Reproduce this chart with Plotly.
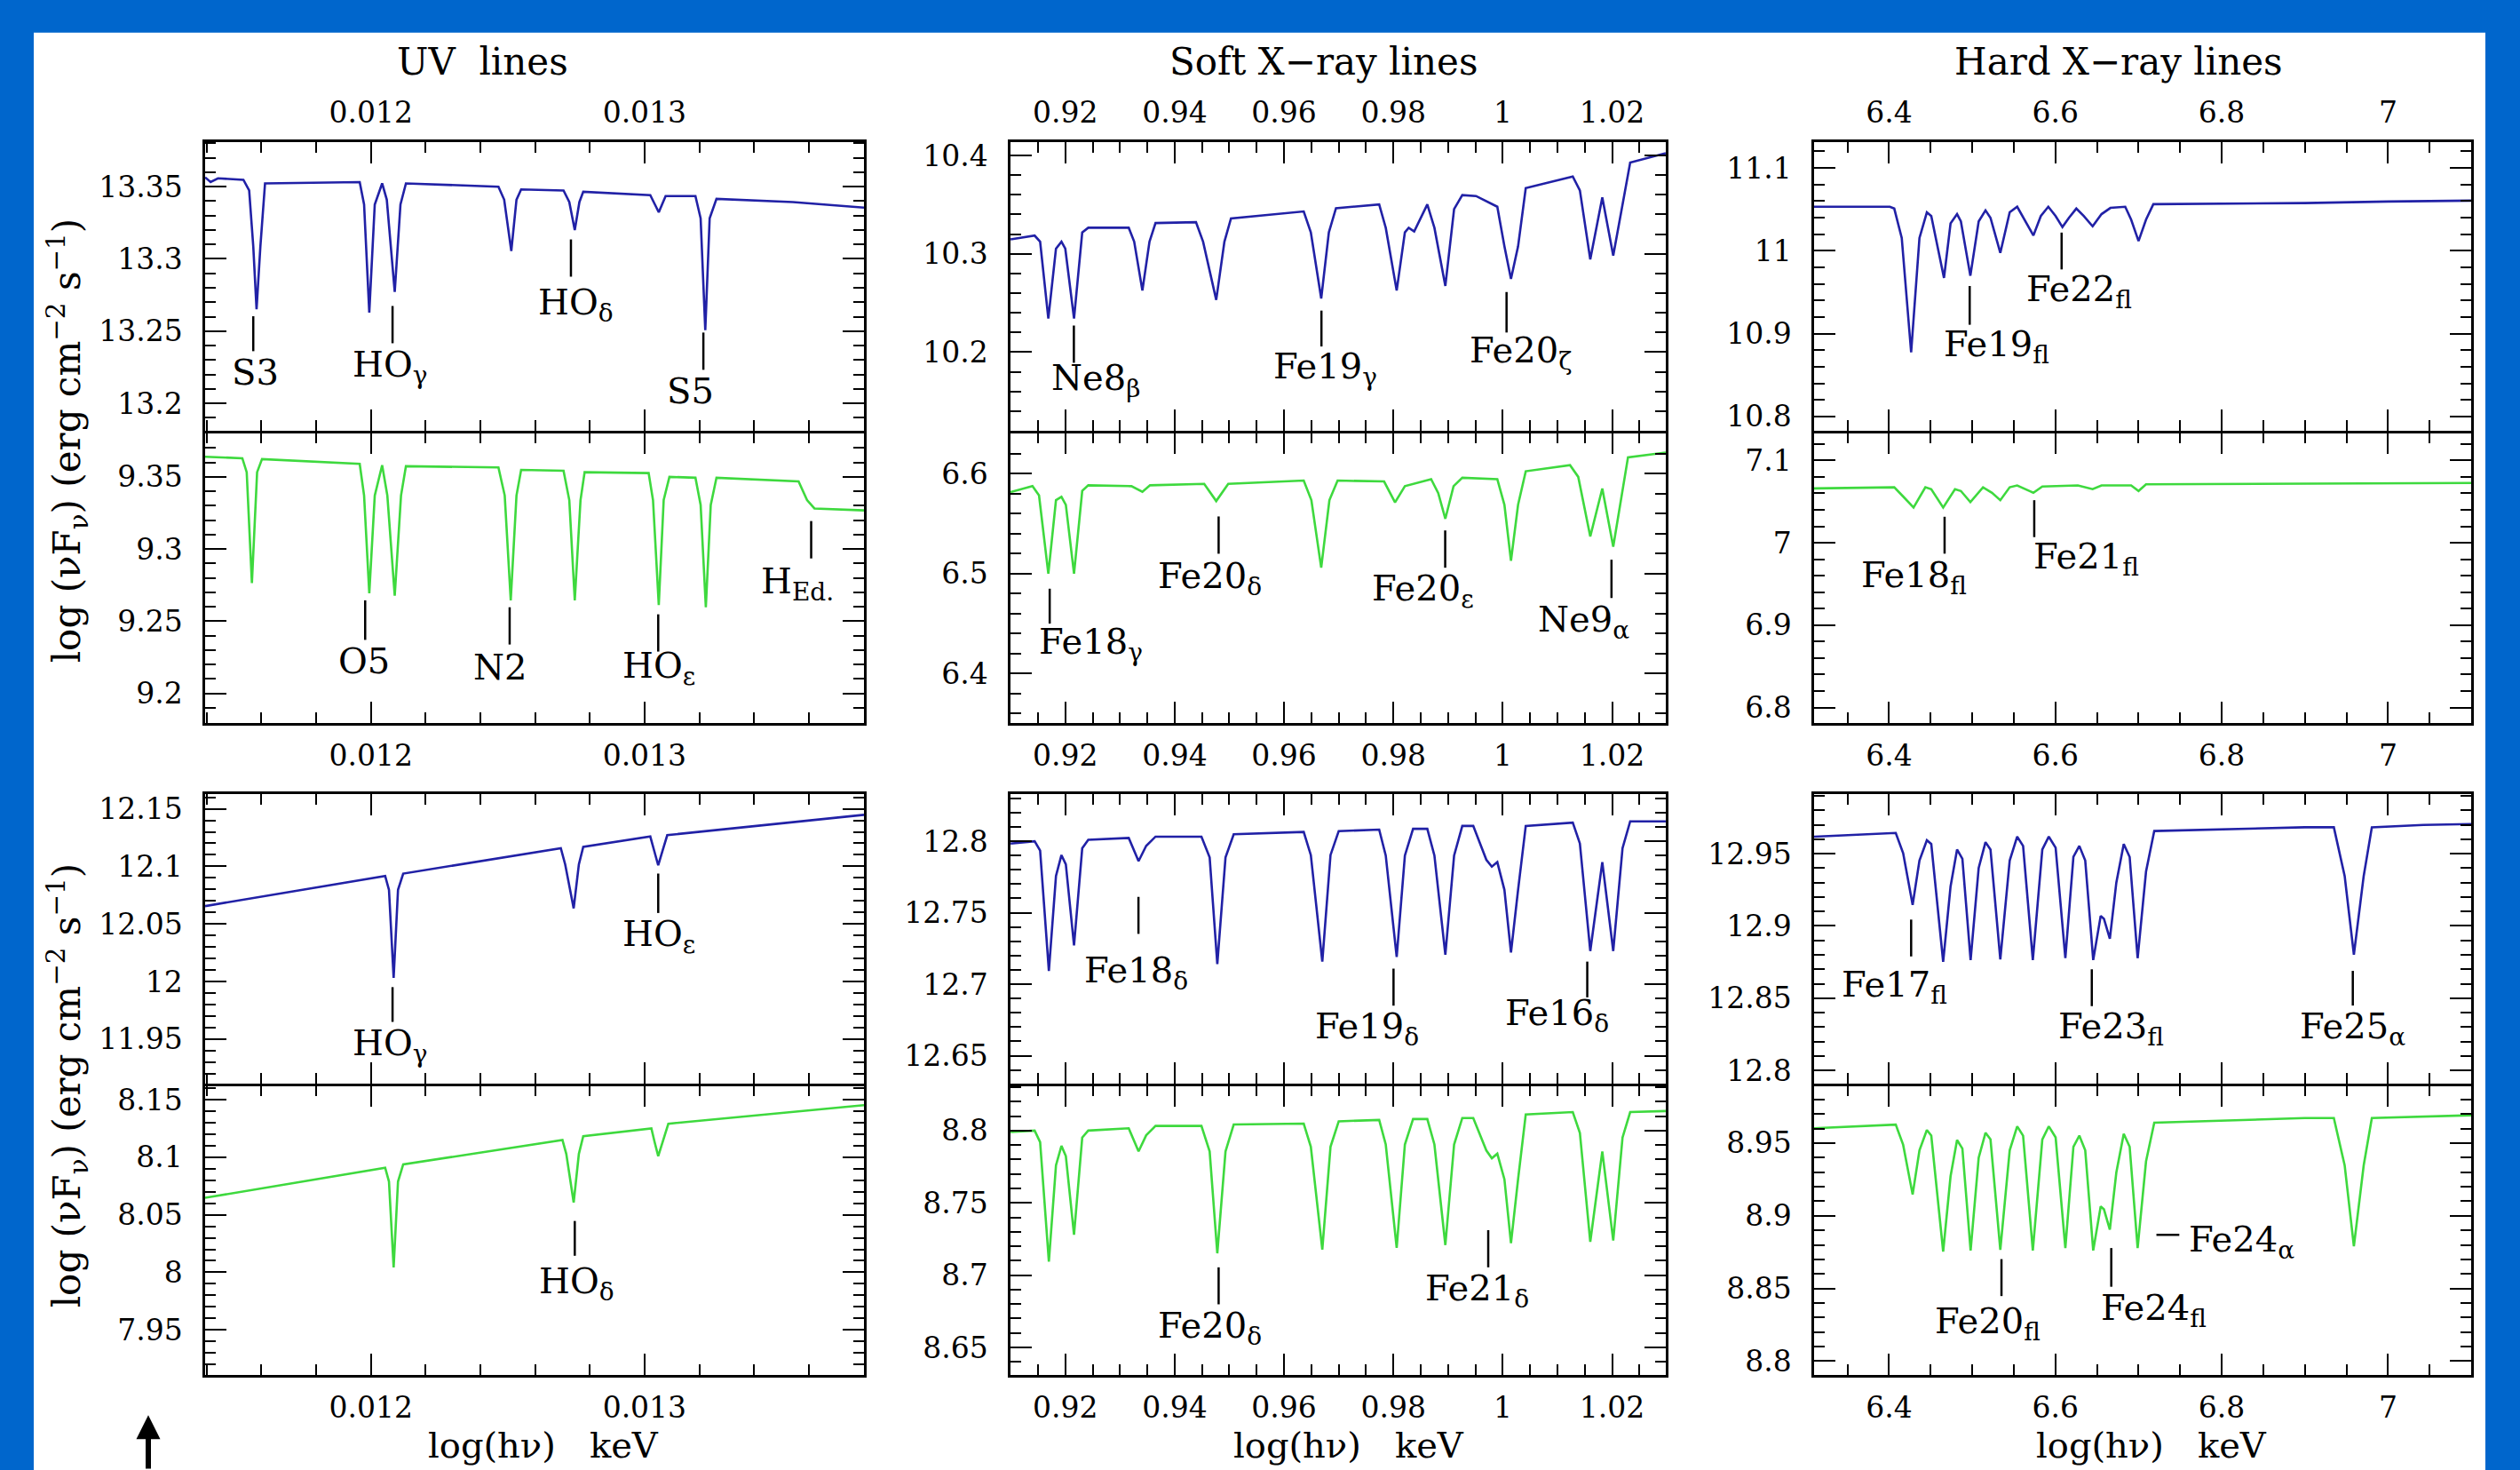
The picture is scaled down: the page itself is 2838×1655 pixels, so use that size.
import plotly.graph_objects as go

W, H = 2838, 1655
FONT = "DejaVu Serif"
C_BLUE = "#2121a6"
C_GREEN = "#3ed93e"
BG = "#0066cc"

# ---------------- data (energy in keV, log(nu F_nu)) ----------------
# UV lines, upper pair
uv_a_blue_x = [0.011394, 0.011414, 0.011441, 0.011534, 0.011555, 0.011570, 0.011582, 0.011596, 0.011613,
               0.011959, 0.011975, 0.011994, 0.012014, 0.012041, 0.012058, 0.012087, 0.012108, 0.012128,
               0.012466, 0.012487, 0.012513, 0.012532, 0.012549, 0.012704, 0.012725, 0.012745, 0.012762,
               0.012776, 0.013021, 0.013052, 0.013077, 0.013186, 0.013205, 0.013222, 0.013238, 0.013263,
               0.013542, 0.013802]
uv_a_blue_y = [13.3565, 13.3532, 13.3558, 13.3548, 13.3474, 13.3087, 13.2652, 13.3087, 13.3523,
               13.3532, 13.3377, 13.2629, 13.3377, 13.3523, 13.3410, 13.2771, 13.3377, 13.3523,
               13.3500, 13.3410, 13.3055, 13.3410, 13.3481, 13.3474, 13.3394, 13.3200, 13.3394,
               13.3465, 13.3442, 13.3323, 13.3435, 13.3435, 13.3281, 13.2506, 13.3281, 13.3416,
               13.3394, 13.3355]
uv_a_green_x = [0.011394, 0.011530, 0.011546, 0.011565, 0.011584, 0.011602, 0.011959, 0.011975, 0.011994,
                0.012014, 0.012041, 0.012060, 0.012087, 0.012110, 0.012128, 0.012466, 0.012489, 0.012511,
                0.012532, 0.012549, 0.012704, 0.012725, 0.012745, 0.012766, 0.012781, 0.013015, 0.013031,
                0.013052, 0.013070, 0.013091, 0.013186, 0.013205, 0.013224, 0.013242, 0.013263, 0.013563,
                0.013594, 0.013621, 0.013802]
uv_a_green_y = [9.3639, 9.3629, 9.3532, 9.2765, 9.3532, 9.3623, 9.3590, 9.3371, 9.2694,
                9.3371, 9.3581, 9.3371, 9.2677, 9.3371, 9.3574, 9.3565, 9.3371, 9.2645,
                9.3371, 9.3548, 9.3542, 9.3339, 9.2645, 9.3339, 9.3532, 9.3526, 9.3339,
                9.2613, 9.3339, 9.3500, 9.3494, 9.3306, 9.2597, 9.3306, 9.3494, 9.3468,
                9.3339, 9.3281, 9.3268]
# UV lines, lower pair
uv_b_blue_x = [0.011394, 0.012052, 0.012066, 0.012083, 0.012099, 0.012118, 0.012694, 0.012710, 0.012741,
               0.012760, 0.012776, 0.013021, 0.013035, 0.013050, 0.013066, 0.013083, 0.013802]
uv_b_blue_y = [12.0655, 12.0917, 12.0796, 12.0031, 12.0796, 12.0937, 12.1158, 12.1017, 12.0635,
               12.1017, 12.1170, 12.1259, 12.1138, 12.1009, 12.1138, 12.1271, 12.1448]
uv_b_green_x = [0.011394, 0.012052, 0.012066, 0.012083, 0.012099, 0.012118, 0.012700, 0.012714, 0.012741,
                0.012760, 0.012776, 0.013025, 0.013037, 0.013050, 0.013066, 0.013087, 0.013802]
uv_b_green_y = [8.0647, 8.0908, 8.0788, 8.0043, 8.0788, 8.0937, 8.1150, 8.1029, 8.0607,
                8.1029, 8.1182, 8.1250, 8.1130, 8.1009, 8.1130, 8.1291, 8.1452]

# Soft X-ray lines, upper pair
sx_a_blue_x = [0.9100, 0.9144, 0.9154, 0.9169, 0.9183, 0.9193, 0.9200, 0.9216, 0.9231, 0.9242,
               0.9316, 0.9326, 0.9341, 0.9354, 0.9365, 0.9439, 0.9452, 0.9476, 0.9491, 0.9503,
               0.9636, 0.9649, 0.9668, 0.9682, 0.9695, 0.9774, 0.9786, 0.9806, 0.9821, 0.9828,
               0.9838, 0.9862, 0.9875, 0.9895, 0.9911, 0.9926, 0.9951, 0.9990, 1.0003, 1.0015,
               1.0028, 1.0042, 1.0128, 1.0141, 1.0160, 1.0182, 1.0202, 1.0219, 1.0233, 1.0298]
sx_a_blue_y = [10.3147, 10.3185, 10.3123, 10.2341, 10.3052, 10.3123, 10.3052, 10.2341, 10.3218, 10.3265,
               10.3265, 10.3123, 10.2626, 10.3123, 10.3313, 10.3322, 10.3123, 10.2531, 10.3123, 10.3360,
               10.3431, 10.3218, 10.2545, 10.3218, 10.3464, 10.3502, 10.3265, 10.2626, 10.3218, 10.3265,
               10.3227, 10.3502, 10.3265, 10.2673, 10.3455, 10.3597, 10.3588, 10.3479, 10.3076, 10.2744,
               10.3076, 10.3668, 10.3787, 10.3645, 10.2943, 10.3573, 10.2981, 10.3502, 10.3929, 10.4024]
sx_a_green_x = [0.9100, 0.9140, 0.9152, 0.9169, 0.9183, 0.9193, 0.9201, 0.9216, 0.9231, 0.9242,
                0.9321, 0.9341, 0.9355, 0.9454, 0.9476, 0.9498, 0.9636, 0.9650, 0.9668, 0.9683,
                0.9698, 0.9783, 0.9803, 0.9821, 0.9869, 0.9882, 0.9895, 0.9910, 0.9926, 0.9990,
                1.0003, 1.0015, 1.0028, 1.0042, 1.0123, 1.0138, 1.0160, 1.0182, 1.0202, 1.0219,
                1.0229, 1.0298]
sx_a_green_y = [6.5814, 6.5874, 6.5781, 6.4998, 6.5734, 6.5767, 6.5688, 6.4998, 6.5828, 6.5883,
                6.5874, 6.5818, 6.5883, 6.5897, 6.5725, 6.5897, 6.5930, 6.5734, 6.5058, 6.5734,
                6.5930, 6.5921, 6.5711, 6.5874, 6.5944, 6.5804, 6.5548, 6.5874, 6.5958, 6.5944,
                6.5688, 6.5128, 6.5688, 6.6023, 6.6084, 6.5967, 6.5371, 6.5851, 6.5268, 6.5828,
                6.6163, 6.6210]
# Soft X-ray lines, lower pair
sx_b_x = [0.9100, 0.9144, 0.9154, 0.9170, 0.9183, 0.9193, 0.9201, 0.9216, 0.9231, 0.9242,
          0.9316, 0.9334, 0.9348, 0.9365, 0.9449, 0.9464, 0.9478, 0.9493, 0.9508, 0.9636,
          0.9649, 0.9670, 0.9685, 0.9700, 0.9774, 0.9786, 0.9806, 0.9821, 0.9836, 0.9862,
          0.9875, 0.9895, 0.9911, 0.9926, 0.9946, 0.9970, 0.9980, 0.9990, 1.0003, 1.0015,
          1.0028, 1.0042, 1.0128, 1.0141, 1.0160, 1.0182, 1.0202, 1.0219, 1.0233, 1.0298]
sx_b_blue_y = [12.7984, 12.8000, 12.7935, 12.7093, 12.7757, 12.7903, 12.7838, 12.7271, 12.7951, 12.8010,
               12.8023, 12.7861, 12.7968, 12.8032, 12.8032, 12.7887, 12.7141, 12.7887, 12.8049, 12.8065,
               12.7903, 12.7158, 12.7903, 12.8071, 12.8081, 12.7900, 12.7190, 12.7900, 12.8087, 12.8087,
               12.7900, 12.7206, 12.7900, 12.8107, 12.8107, 12.7870, 12.7822, 12.7854, 12.7660, 12.7222,
               12.7660, 12.8107, 12.8130, 12.7984, 12.7232, 12.7854, 12.7232, 12.7951, 12.8139, 12.8139]
sx_b_green_y = [8.7990, 8.8000, 8.7920, 8.7093, 8.7760, 8.7894, 8.7824, 8.7279, 8.7952, 8.8000,
                8.8016, 8.7856, 8.7968, 8.8032, 8.8032, 8.7856, 8.7151, 8.7856, 8.8042, 8.8048,
                8.7888, 8.7176, 8.7888, 8.8064, 8.8074, 8.7904, 8.7189, 8.7904, 8.8080, 8.8080,
                8.7904, 8.7208, 8.7904, 8.8087, 8.8087, 8.7862, 8.7808, 8.7840, 8.7663, 8.7221,
                8.7663, 8.8112, 8.8128, 8.7984, 8.7231, 8.7856, 8.7240, 8.7952, 8.8128, 8.8135]

# Hard X-ray lines, upper pair
hx_a_blue_x = [6.3099, 6.4010, 6.4063, 6.4153, 6.4266, 6.4366, 6.4455, 6.4508, 6.4661, 6.4740,
               6.4818, 6.4864, 6.4978, 6.5078, 6.5160, 6.5220, 6.5338, 6.5451, 6.5541, 6.5630,
               6.5736, 6.5825, 6.5915, 6.6003, 6.6085, 6.6163, 6.6252, 6.6341, 6.6448, 6.6555,
               6.6662, 6.6840, 6.6911, 6.7000, 6.7090, 6.7178, 6.9000, 7.0000, 7.0999]
hx_a_blue_y = [11.0532, 11.0532, 11.0510, 11.0154, 10.8773, 11.0154, 11.0465, 11.0420, 10.9672, 11.0331,
               11.0443, 11.0355, 10.9699, 11.0355, 11.0488, 11.0398, 10.9975, 11.0465, 11.0532, 11.0376,
               11.0185, 11.0420, 11.0532, 11.0420, 11.0287, 11.0398, 11.0510, 11.0420, 11.0296, 11.0443,
               11.0518, 11.0532, 11.0376, 11.0118, 11.0376, 11.0563, 11.0577, 11.0595, 11.0606]
hx_a_green_x = [6.3099, 6.4063, 6.4170, 6.4295, 6.4437, 6.4508, 6.4651, 6.4793, 6.4864, 6.4978,
                6.5130, 6.5238, 6.5338, 6.5451, 6.5541, 6.5736, 6.5843, 6.6270, 6.6448, 6.6555,
                6.6911, 6.7000, 6.7090, 7.0999]
hx_a_green_y = [7.0660, 7.0674, 7.0562, 7.0428, 7.0674, 7.0651, 7.0428, 7.0651, 7.0629, 7.0494,
                7.0674, 7.0607, 7.0517, 7.0674, 7.0696, 7.0607, 7.0683, 7.0696, 7.0651, 7.0696,
                7.0696, 7.0629, 7.0710, 7.0727]
# Hard X-ray lines, lower pair
hx_b_x = [6.3099, 6.4081, 6.4170, 6.4284, 6.4366, 6.4455, 6.4508, 6.4651, 6.4740, 6.4818,
          6.4882, 6.4981, 6.5078, 6.5160, 6.5220, 6.5338, 6.5451, 6.5541, 6.5612, 6.5729,
          6.5843, 6.5921, 6.6003, 6.6120, 6.6217, 6.6288, 6.6359, 6.6455, 6.6545, 6.6584,
          6.6655, 6.6733, 6.6822, 6.6893, 6.6989, 6.7090, 6.7189, 6.9000, 6.9348, 6.9478,
          6.9589, 6.9707, 6.9805, 7.0424, 7.0999]
hx_b_blue_y = [12.9618, 12.9644, 12.9504, 12.9146, 12.9453, 12.9593, 12.9567, 12.8751, 12.9274, 12.9529,
               12.9465, 12.8764, 12.9401, 12.9580, 12.9529, 12.8769, 12.9453, 12.9618, 12.9554, 12.8764,
               12.9529, 12.9618, 12.9542, 12.8777, 12.9478, 12.9554, 12.9453, 12.8764, 12.9070, 12.9049,
               12.8912, 12.9300, 12.9567, 12.9478, 12.8777, 12.9376, 12.9657, 12.9683, 12.9683, 12.9346,
               12.8801, 12.9346, 12.9683, 12.9699, 12.9705]
hx_b_green_y = [8.9602, 8.9627, 8.9488, 8.9146, 8.9450, 8.9590, 8.9551, 8.8753, 8.9272, 8.9521,
                8.9462, 8.8761, 8.9399, 8.9571, 8.9525, 8.8766, 8.9450, 8.9615, 8.9551, 8.8761,
                8.9525, 8.9615, 8.9539, 8.8778, 8.9475, 8.9551, 8.9450, 8.8761, 8.9064, 8.9044,
                8.8905, 8.9298, 8.9564, 8.9475, 8.8778, 8.9374, 8.9640, 8.9672, 8.9672, 8.9347,
                8.8790, 8.9347, 8.9672, 8.9682, 8.9691]

# line identifications: panel, label, text x, text y, marker x, marker y top, marker y bottom
line_ids = [
    (1, "S3", 0.011576, 13.2216, 0.011570, 13.2603, 13.2361),
    (1, "HO<sub>γ</sub>", 0.012068, 13.2255, 0.012079, 13.2674, 13.2416),
    (1, "HO<sub>δ</sub>", 0.012749, 13.2684, 0.012731, 13.3135, 13.2877),
    (1, "S5", 0.013166, 13.2087, 0.013215, 13.2490, 13.2232),
    (4, "O5", 0.011975, 9.2226, 0.011979, 9.2645, 9.2371),
    (4, "N2", 0.012472, 9.2184, 0.012507, 9.2597, 9.2339),
    (4, "HO<sub>ε</sub>", 0.013052, 9.2177, 0.013050, 9.2548, 9.2290),
    (4, "H<sub>Ed.</sub>", 0.013557, 9.2758, 0.013609, 9.3194, 9.2935),
    (7, "HO<sub>γ</sub>", 0.012068, 11.9448, 0.012079, 11.9951, 11.9649),
    (7, "HO<sub>ε</sub>", 0.013052, 12.0393, 0.013050, 12.0937, 12.0595),
    (10, "HO<sub>δ</sub>", 0.012752, 7.9902, 0.012745, 8.0446, 8.0144),
    (2, "Ne8<sub>β</sub>", 0.92561, 10.1711, 0.92157, 10.2270, 10.1891),
    (2, "Fe19<sub>γ</sub>", 0.96753, 10.1829, 0.96684, 10.2422, 10.2057),
    (2, "Fe20<sub>ζ</sub>", 1.00325, 10.1995, 1.00069, 10.2611, 10.2199),
    (5, "Fe18<sub>γ</sub>", 0.92462, 6.4298, 0.91715, 6.4848, 6.4499),
    (5, "Fe20<sub>δ</sub>", 0.94647, 6.4951, 0.94804, 6.5571, 6.5198),
    (5, "Fe20<sub>ε</sub>", 0.98534, 6.4825, 0.98947, 6.5431, 6.5058),
    (5, "Ne9<sub>α</sub>", 1.01486, 6.4513, 1.01988, 6.5138, 6.4755),
    (8, "Fe18<sub>δ</sub>", 0.93289, 12.7083, 0.93338, 12.7611, 12.7352),
    (8, "Fe19<sub>δ</sub>", 0.97510, 12.6688, 0.98002, 12.7109, 12.6850),
    (8, "Fe16<sub>δ</sub>", 1.00984, 12.6785, 1.01545, 12.7158, 12.6908),
    (11, "Fe20<sub>δ</sub>", 0.94647, 8.6638, 0.94804, 8.7054, 8.6798),
    (11, "Fe21<sub>δ</sub>", 0.99537, 8.6894, 0.99734, 8.7311, 8.7054),
    (3, "Fe19<sub>fl</sub>", 6.5291, 10.8840, 6.4970, 10.9575, 10.9107),
    (3, "Fe22<sub>fl</sub>", 6.6288, 10.9508, 6.6075, 11.0220, 10.9775),
    (6, "Fe18<sub>fl</sub>", 6.4295, 6.9585, 6.4668, 7.0316, 6.9868),
    (6, "Fe21<sub>fl</sub>", 6.6366, 6.9811, 6.5746, 7.0517, 7.0069),
    (9, "Fe17<sub>fl</sub>", 6.4065, 12.8577, 6.4266, 12.9044, 12.8789),
    (9, "Fe23<sub>fl</sub>", 6.6675, 12.8288, 6.6438, 12.8700, 12.8445),
    (9, "Fe25<sub>α</sub>", 6.9570, 12.8288, 6.9576, 12.8689, 12.8449),
    (12, "Fe20<sub>fl</sub>", 6.5187, 8.8258, 6.5352, 8.8702, 8.8448),
    (12, "Fe24<sub>fl</sub>", 6.7183, 8.8354, 6.6672, 8.8778, 8.8512),
]
# label with a horizontal leader: panel, label, text left x, text y, dash x0, dash x1, dash y
side_ids = [(12, "Fe24<sub>α</sub>", 6.7587, 8.8822, 6.7215, 6.7490, 8.8869)]

col_titles = ["UV\u00a0 lines", "Soft X\u2212ray lines", "Hard X\u2212ray lines"]
x_title = "log(h\u03bd)\u00a0\u00a0\u00a0keV"
y_title = "log (\u03bdF<sub>\u03bd</sub>) (erg cm<sup>\u22122</sup> s<sup>\u22121</sup>)"

panels = [
    (uv_a_blue_x, uv_a_blue_y, C_BLUE), (sx_a_blue_x, sx_a_blue_y, C_BLUE), (hx_a_blue_x, hx_a_blue_y, C_BLUE),
    (uv_a_green_x, uv_a_green_y, C_GREEN), (sx_a_green_x, sx_a_green_y, C_GREEN), (hx_a_green_x, hx_a_green_y, C_GREEN),
    (uv_b_blue_x, uv_b_blue_y, C_BLUE), (sx_b_x, sx_b_blue_y, C_BLUE), (hx_b_x, hx_b_blue_y, C_BLUE),
    (uv_b_green_x, uv_b_green_y, C_GREEN), (sx_b_x, sx_b_green_y, C_GREEN), (hx_b_x, hx_b_green_y, C_GREEN),
]

x_ranges = [[0.011394, 0.013802], [0.90998, 1.02981], [6.3099, 7.0999]]
x_dticks = [(0.001, 0.0002), (0.02, 0.005), (0.2, 0.05)]
y_ranges = [
    [[13.1809, 13.3808], [10.1198, 10.4135], [10.7825, 11.1311]],
    [[9.1798, 9.3803], [6.3508, 6.6405], [6.7816, 7.1332]],
    [[11.9112, 12.1627], [12.6304, 12.8329], [12.7908, 12.9912]],
    [[7.9112, 8.1619], [8.6312, 8.8309], [8.7908, 8.9893]],
]
y_dticks = [
    [(0.05, 0.01), (0.1, 0.02), (0.1, 0.02)],
    [(0.05, 0.01), (0.1, 0.02), (0.1, 0.02)],
    [(0.05, 0.01), (0.05, 0.01), (0.05, 0.01)],
    [(0.05, 0.01), (0.05, 0.01), (0.05, 0.01)],
]

# ---------------- layout geometry (pixels) ----------------
LW = 2.5
col_px = [(231, 973), (1138, 1876), (2043, 2783)]
# stacked panels: shift shared edges so both frame lines coincide on the divider
row_px = [(157, 485 - LW / 2), (485 + LW / 2, 814), (895, 1224 - LW / 2), (1224 + LW / 2, 1552)]


def px(x):
    return x / W


def py(y):
    return 1 - y / H


axis_style = dict(showline=True, linecolor="black", linewidth=LW, mirror="allticks",
                  ticks="inside", ticklen=24, tickwidth=2, tickcolor="black",
                  showgrid=False, zeroline=False, fixedrange=True,
                  tickfont=dict(family=FONT, size=33, color="black"))
minor_style = dict(ticks="inside", ticklen=12, tickwidth=2, tickcolor="black", showgrid=False)

fig = go.Figure()
lay = {}
for i, (xs, ys, colr) in enumerate(panels):
    n = i + 1
    r, c = divmod(i, 3)
    sfx = "" if n == 1 else str(n)
    fig.add_trace(go.Scatter(x=xs, y=ys, mode="lines", line=dict(color=colr, width=2.6),
                             xaxis="x" + sfx, yaxis="y" + sfx, showlegend=False, hoverinfo="skip"))
    xd, xm = x_dticks[c]
    yd, ym = y_dticks[r][c]
    xa = dict(domain=[px(col_px[c][0]), px(col_px[c][1])], range=x_ranges[c], anchor="y" + sfx,
              tick0=0, dtick=xd, minor=dict(tick0=0, dtick=xm, **minor_style), **axis_style)
    if r == 0:
        xa.update(side="top", showticklabels=True, ticklabelstandoff=6)
    elif r == 2:
        xa.update(side="bottom", showticklabels=False)
    else:
        xa.update(side="bottom", showticklabels=True, ticklabelstandoff=6)
    ya = dict(domain=[py(row_px[r][1]), py(row_px[r][0])], range=y_ranges[r][c], anchor="x" + sfx,
              tick0=0, dtick=yd, minor=dict(tick0=0, dtick=ym, **minor_style),
              ticklabelstandoff=16, **axis_style)
    lay["xaxis" + sfx] = xa
    lay["yaxis" + sfx] = ya

shapes = [dict(type="rect", xref="paper", yref="paper", x0=px(38), x1=px(2799), y0=-0.01, y1=py(33),
               fillcolor="white", line=dict(width=0), layer="below")]
annotations = []

for (n, txt, tx, ty, lx, ly0, ly1) in line_ids:
    sfx = "" if n == 1 else str(n)
    shapes.append(dict(type="line", xref="x" + sfx, yref="y" + sfx, x0=lx, x1=lx, y0=ly0, y1=ly1,
                       line=dict(color="black", width=2.5)))
    annotations.append(dict(xref="x" + sfx, yref="y" + sfx, x=tx, y=ty, text=txt, showarrow=False,
                            xanchor="center", yanchor="middle",
                            font=dict(family=FONT, size=40, color="black")))
for (n, txt, tx, ty, dx0, dx1, dy) in side_ids:
    sfx = "" if n == 1 else str(n)
    shapes.append(dict(type="line", xref="x" + sfx, yref="y" + sfx, x0=dx0, x1=dx1, y0=dy, y1=dy,
                       line=dict(color="black", width=2.5)))
    annotations.append(dict(xref="x" + sfx, yref="y" + sfx, x=tx, y=ty, text=txt, showarrow=False,
                            xanchor="left", yanchor="middle",
                            font=dict(family=FONT, size=40, color="black")))

# column titles
for cx, t in zip([543, 1490, 2386], col_titles):
    annotations.append(dict(xref="paper", yref="paper", x=px(cx), y=py(66), text=t, showarrow=False,
                            xanchor="center", yanchor="middle",
                            font=dict(family=FONT, size=42, color="black")))
# x axis titles
for cx in [612, 1519, 2423]:
    annotations.append(dict(xref="paper", yref="paper", x=px(cx), y=py(1632), text=x_title,
                            showarrow=False, xanchor="center", yanchor="middle",
                            font=dict(family=FONT, size=40, color="black")))
# y axis titles
for cy in [495, 1225]:
    annotations.append(dict(xref="paper", yref="paper", x=px(76), y=py(cy), text=y_title,
                            showarrow=False, xanchor="center", yanchor="middle", textangle=-90,
                            font=dict(family=FONT, size=42, color="black")))
# arrow at lower left
annotations.append(dict(xref="paper", yref="paper", x=px(167), y=py(1598), text="", showarrow=True,
                        ax=0, ay=70, arrowhead=2, arrowsize=0.9, arrowwidth=6, arrowcolor="black"))

fig.update_layout(width=W, height=H, margin=dict(l=0, r=0, t=0, b=0), autosize=False,
                  paper_bgcolor=BG, plot_bgcolor="white", showlegend=False,
                  shapes=shapes, annotations=annotations, **lay)

fig.write_html("out.html")
